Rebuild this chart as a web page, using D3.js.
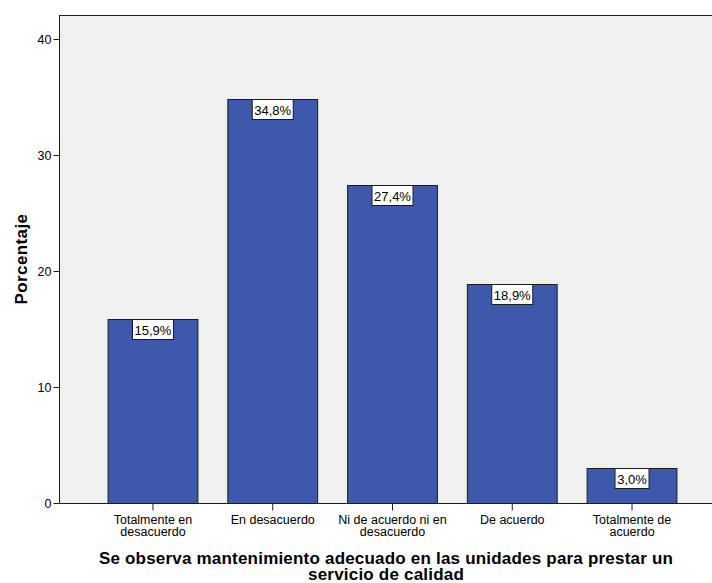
<!DOCTYPE html>
<html>
<head>
<meta charset="utf-8">
<script src="https://cdn.jsdelivr.net/npm/d3@7"></script>
<style>
  html, body { margin: 0; padding: 0; background: #fff; }
  svg { display: block; }
  text { font-family: "Liberation Sans", Arial, sans-serif; fill: #000; }
</style>
</head>
<body>
<svg id="chart" width="712" height="583"></svg>
<script>
// Response categories (two-line labels split by "\n")
const categories = [
  "Totalmente en\ndesacuerdo",
  "En desacuerdo",
  "Ni de acuerdo ni en\ndesacuerdo",
  "De acuerdo",
  "Totalmente de\nacuerdo"
];
// Percentage of respondents per category
const percentages = [15.9, 34.8, 27.4, 18.9, 3.0];
const yTicks = [0, 10, 20, 30, 40];
const yAxisTitle = "Porcentaje";
const xAxisTitle = ["Se observa mantenimiento adecuado en las unidades para prestar un", "servicio de calidad"];

const svg = d3.select("#chart");
const plot = { left: 59, top: 15, right: 712, bottom: 503 };

const y = d3.scaleLinear().domain([0, 40]).range([plot.bottom, 39]);
const x = d3.scaleBand()
  .domain(categories)
  .range([92.6, 691.4])
  .paddingInner(0.25)
  .paddingOuter(0.125);

// Plot background
svg.append("rect")
  .attr("x", plot.left).attr("y", plot.top)
  .attr("width", plot.right - plot.left)
  .attr("height", plot.bottom - plot.top)
  .attr("fill", "#f0f0f0");

// Bars
svg.append("g").selectAll("rect")
  .data(percentages)
  .join("rect")
  .attr("x", (d, i) => x(categories[i]) + 0.5)
  .attr("y", d => Math.round(y(d)) + 0.5)
  .attr("width", x.bandwidth())
  .attr("height", d => plot.bottom - Math.round(y(d)))
  .attr("fill", "#3e58ac")
  .attr("stroke", "#1c1c1c")
  .attr("stroke-width", 1);

// Value labels in white boxes at the top of each bar
const fmt = v => v.toFixed(1).replace(".", ",") + "%";
const labels = svg.append("g").selectAll("g")
  .data(percentages)
  .join("g")
  .attr("transform", (d, i) => `translate(${x(categories[i]) + x.bandwidth() / 2 + 0.5},${Math.round(y(d)) + 0.5})`);
labels.append("text")
  .attr("text-anchor", "middle")
  .attr("y", 15)
  .attr("font-size", 13)
  .text(fmt);
labels.each(function () {
  const g = d3.select(this);
  const bb = g.select("text").node().getBBox();
  const w = Math.round(bb.width + 4);
  g.insert("rect", "text")
    .attr("x", -w / 2)
    .attr("y", 0)
    .attr("width", w)
    .attr("height", 20)
    .attr("fill", "#fff")
    .attr("stroke", "#1c1c1c")
    .attr("stroke-width", 1);
});

// Y axis
const yAxis = svg.append("g")
  .attr("transform", `translate(${plot.left + 0.5},0)`)
  .call(d3.axisLeft(y).tickValues(yTicks).tickSize(6).tickPadding(2).tickFormat(d3.format("d")));
yAxis.select(".domain").attr("d", `M0,${plot.top}V${plot.bottom}`).attr("stroke", "#1c1c1c");
yAxis.selectAll(".tick line").attr("stroke", "#1c1c1c");
yAxis.selectAll(".tick text").attr("font-size", 12.5).attr("font-family", "Liberation Sans, Arial, sans-serif");

// Top frame line
svg.append("line")
  .attr("x1", plot.left).attr("x2", plot.right)
  .attr("y1", plot.top + 0.5).attr("y2", plot.top + 0.5)
  .attr("stroke", "#1c1c1c");

// X axis
const xAxis = svg.append("g")
  .attr("transform", `translate(0.5,${plot.bottom + 0.5})`)
  .call(d3.axisBottom(x).tickSize(7).tickFormat(""));
xAxis.select(".domain").attr("d", `M${plot.left},0H${plot.right}`).attr("stroke", "#1c1c1c");
xAxis.selectAll(".tick line").attr("stroke", "#1c1c1c");

// Category labels (multi-line)
xAxis.selectAll(".tick").each(function (d) {
  const t = d3.select(this).select("text")
    .attr("y", 0).attr("dy", null)
    .attr("font-size", 12.5)
    .attr("font-family", "Liberation Sans, Arial, sans-serif");
  d.split("\n").forEach((line, k) => {
    t.append("tspan").attr("x", 0).attr("y", 20 + k * 12.5).text(line);
  });
});

// Axis titles
svg.append("text")
  .attr("transform", `translate(27,${(plot.top + plot.bottom) / 2}) rotate(-90)`)
  .attr("text-anchor", "middle")
  .attr("font-size", 17)
  .attr("letter-spacing", 0.4)
  .attr("font-weight", "bold")
  .text(yAxisTitle);

svg.append("text")
  .attr("text-anchor", "middle")
  .attr("font-size", 17)
  .attr("letter-spacing", 0.2)
  .attr("font-weight", "bold")
  .selectAll("tspan")
  .data(xAxisTitle)
  .join("tspan")
  .attr("x", 386)
  .attr("y", (d, i) => 563.5 + i * 16.5)
  .text(d => d);
</script>
</body>
</html>
